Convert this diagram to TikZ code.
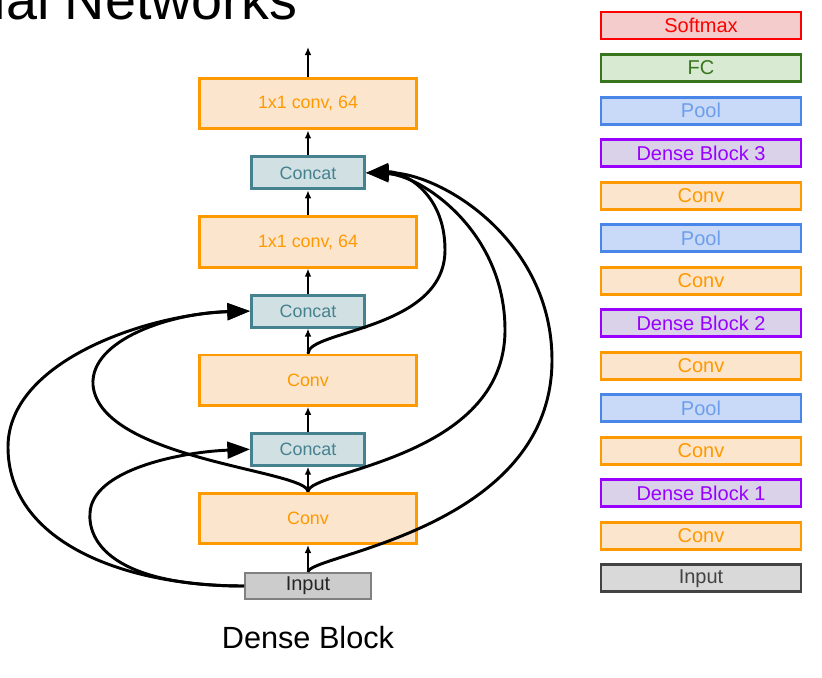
\documentclass[tikz,border=0pt]{standalone}
\usepackage{fontspec}
\setmainfont{Liberation Sans}
\usetikzlibrary{arrows.meta,positioning}
\definecolor{convline}{HTML}{FF9900}
\definecolor{convfill}{HTML}{FCE5CD}
\definecolor{concatline}{HTML}{45818E}
\definecolor{concatfill}{HTML}{D0E0E3}
\definecolor{poolline}{HTML}{4A86E8}
\definecolor{poolfill}{HTML}{C9DAF8}
\definecolor{pooltext}{HTML}{6D9EEB}
\definecolor{denseline}{HTML}{9900FF}
\definecolor{densefill}{HTML}{D9D2E9}
\definecolor{fcline}{HTML}{38761D}
\definecolor{fcfill}{HTML}{D9EAD3}
\definecolor{softline}{HTML}{FF0000}
\definecolor{softfill}{HTML}{F4CCCC}
\definecolor{inputline}{HTML}{434343}
\definecolor{inputfill}{HTML}{D9D9D9}
\definecolor{inleftline}{HTML}{808080}
\definecolor{inleftfill}{HTML}{CCCCCC}

\begin{document}
\begin{tikzpicture}[
  x=0.75pt, y=-0.75pt,
  font=\fontsize{13.4}{16}\selectfont,
  >=Latex,
  box/.style={draw, line width=2.2pt, inner sep=0pt, align=center},
  conv/.style={box, draw=convline, fill=convfill, text=convline, minimum width=162.75pt, minimum height=37.75pt},
  concat/.style={box, draw=concatline, fill=concatfill, text=concatline, minimum width=84.75pt, minimum height=24pt},
  inbox/.style={box, draw=inleftline, fill=inleftfill, line width=1.4pt, text=black!85, minimum width=94.6pt, minimum height=19.6pt, font=\fontsize{15}{18}\selectfont},
  legend/.style={box, minimum width=150pt, minimum height=20.25pt, font=\fontsize{15}{18}\selectfont},
  lsoftbox/.style={legend, draw=softline, fill=softfill, text=softline},
  lfcbox/.style={legend, draw=fcline, fill=fcfill, text=fcline},
  lpoolbox/.style={legend, draw=poolline, fill=poolfill, text=pooltext},
  ldensebox/.style={legend, draw=denseline, fill=densefill, text=denseline},
  lconvbox/.style={legend, draw=convline, fill=convfill, text=convline},
  linbox/.style={legend, draw=inputline, fill=inputfill, text=inputline},
  line/.style={draw=black, line width=1.1pt, -{Latex[length=6pt,width=5pt]}},
  skip/.style={draw=black, line width=2.2pt, -{Triangle[length=17pt,width=12.5pt]}}
]
\useasboundingbox (0,0) rectangle (822,678);

\node[anchor=base east, font=\fontsize{41.8}{50}\selectfont] (title) at (302,20) {ial Networks};

\node[inbox] (in0) at (308,586) {Input};
\node[conv, above=20.25pt of in0] (conv1) {Conv};
\node[concat, above=18.75pt of conv1] (cat1) {Concat};
\node[conv, above=18.75pt of cat1] (conv2) {Conv};
\node[concat, above=18.75pt of conv2] (cat2) {Concat};
\node[conv, above=18.75pt of cat2] (red1) {1x1 conv, 64};
\node[concat, above=18.75pt of red1] (cat3) {Concat};
\node[conv, above=18.75pt of cat3] (red2) {1x1 conv, 64};
\coordinate (out) at (308,47);

\node[font=\fontsize{23}{28}\selectfont, anchor=base] (caption) at (308,648) {Dense Block};

\draw[line] (in0) -- (conv1);
\draw[line] (conv1) -- (cat1);
\draw[line] (cat1) -- (conv2);
\draw[line] (conv2) -- (cat2);
\draw[line] (cat2) -- (red1);
\draw[line] (red1) -- (cat3);
\draw[line] (cat3) -- (red2);
\draw[line] (red2) -- (out);

\draw[skip] (in0.west) .. controls (110,586) and (88,540) .. (90,513) .. controls (92,470) and (180,452) .. (cat1.west);
\draw[skip] (in0.west) .. controls (120,586) and (8,540) .. (8,447) .. controls (8,360) and (150,314) .. (cat2.west);
\draw[skip] (conv1.north) .. controls (308,470) and (100,460) .. (93,385) .. controls (90,340) and (170,313) .. (cat2.west);
\draw[skip] (conv2.north) .. controls (308,330) and (445,330) .. (445,250) .. controls (445,190) and (400,171) .. (cat3.east);
\draw[skip] (conv1.north) .. controls (308,470) and (505,460) .. (505,330) .. controls (505,230) and (420,175) .. (cat3.east);
\draw[skip] (in0.north) .. controls (308,555) and (552,530) .. (552,360) .. controls (552,240) and (440,172) .. (cat3.east);

\node[lsoftbox] (lsoft) at (701,25.5) {Softmax};
\node[lfcbox, below=9.45pt of lsoft] (lfc) {FC};
\node[lpoolbox, below=9.45pt of lfc] (lpool3) {Pool};
\node[ldensebox, below=9.45pt of lpool3] (ldense3) {Dense Block 3};
\node[lconvbox, below=9.45pt of ldense3] (lconv5) {Conv};
\node[lpoolbox, below=9.45pt of lconv5] (lpool2) {Pool};
\node[lconvbox, below=9.45pt of lpool2] (lconv4) {Conv};
\node[ldensebox, below=9.45pt of lconv4] (ldense2) {Dense Block 2};
\node[lconvbox, below=9.45pt of ldense2] (lconv3) {Conv};
\node[lpoolbox, below=9.45pt of lconv3] (lpool1) {Pool};
\node[lconvbox, below=9.45pt of lpool1] (lconv2) {Conv};
\node[ldensebox, below=9.45pt of lconv2] (ldense1) {Dense Block 1};
\node[lconvbox, below=9.45pt of ldense1] (lconv1) {Conv};
\node[linbox, below=9.45pt of lconv1] (linput) {Input};
\end{tikzpicture}
\end{document}
